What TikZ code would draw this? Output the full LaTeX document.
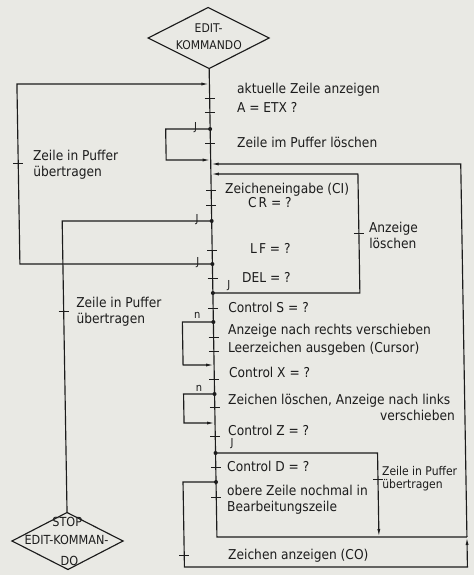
\documentclass[tikz,border=0pt]{standalone}
\usepackage{fontspec}
\setmainfont{DejaVu Sans Condensed}
\usetikzlibrary{arrows.meta}
\definecolor{paper}{RGB}{233,233,228}
\definecolor{ink}{RGB}{28,28,28}
\begin{document}
\begin{tikzpicture}[x=1pt,y=-1pt,
  ln/.style={draw=ink,line width=1.15pt},
  arr/.style={ln,-{Latex[length=8pt,width=3pt]}},
  tickmark/.style={draw=ink,line width=1pt},
  txt/.style={anchor=base west,inner sep=0pt,text=ink,font=\fontsize{13.6}{16}\selectfont},
  txtsm/.style={txt,font=\fontsize{12}{14}\selectfont},
  dlab/.style={anchor=base,inner sep=0pt,text=ink,font=\fontsize{12}{14}\selectfont},
  yn/.style={inner sep=0pt,text=ink,font=\fontsize{11}{13}\selectfont},
  dot/.style={fill=ink}
]
\fill[paper] (0,0) rectangle (474,575);
\useasboundingbox (0,0) rectangle (474,575);
\begin{scope}[cm={1,0,-0.0166,1,(-4.98,0)}]
  % start and stop symbols
  \coordinate (startc) at (213,38);
  \draw[ln] (startc) ++(-60.5,0) -- ++(60.5,-30.5) -- ++(60.5,30.5) -- ++(-60.5,30.5) -- cycle;
  \node[dlab] (start1) at (213,33) {EDIT-};
  \node[dlab] (start2) at (213,50) {KOMMANDO};
  \coordinate (stopc) at (63.5,541);
  \coordinate (stoptop) at (63.5,512.5);
  \draw[ln] (stopc) ++(-55.5,0) -- ++(55.5,-28.5) -- ++(55.5,28.5) -- ++(-55.5,28.5) -- cycle;
  \node[dlab,font=\fontsize{12.5}{14}\selectfont] (stop1) at (63.5,526) {STOP};
  \node[dlab,font=\fontsize{12.5}{14}\selectfont] (stop2) at (62.5,544) {EDIT-KOMMAN-};
  \node[dlab,font=\fontsize{12.5}{14}\selectfont] (stop3) at (65,565) {DO};

  % points on the main line
  \coordinate (top) at (213,69);
  \coordinate (m84) at (213,84);
  \coordinate (j129) at (213,129);
  \coordinate (m160) at (213,160);
  \coordinate (m164) at (213,164);
  \coordinate (m174) at (213,174);
  \coordinate (j221) at (213,221);
  \coordinate (j264) at (213,264);
  \coordinate (j293) at (213,293);
  \coordinate (j322) at (213,322);
  \coordinate (m365) at (213,365);
  \coordinate (j394) at (213,394);
  \coordinate (m423) at (213,423);
  \coordinate (j453) at (213,453);
  \coordinate (j482) at (213,482);
  \coordinate (m537) at (213,537);
  \coordinate (rj) at (463,537);

  % corners of the branch lines
  \coordinate (c1a) at (20.5,264);  \coordinate (c1b) at (20.5,84);
  \coordinate (c2a) at (168.5,129); \coordinate (c2b) at (168.5,160);
  \coordinate (c3) at (63.5,221);
  \coordinate (c4a) at (360,293);   \coordinate (c4b) at (360,174);
  \coordinate (c5a) at (180,482);   \coordinate (c5b) at (180,567);
  \coordinate (c5c) at (463,567);   \coordinate (c5d) at (463,164);
  \coordinate (c6a) at (182,322);   \coordinate (c6b) at (182,365);
  \coordinate (c7a) at (182,394);   \coordinate (c7b) at (182,423);
  \coordinate (c8a) at (375,453);   \coordinate (c8b) at (375,537);

  % main line
  \draw[ln] (top) -- (m537) -- (rj);

  % branches
  \draw[arr] (j264) -- (c1a) -- (c1b) -- (m84);
  \draw[arr] (j129) -- (c2a) -- (c2b) -- (m160);
  \draw[ln] (j221) -- (c3) -- (stoptop);
  \draw[arr] (j293) -- (c4a) -- (c4b) -- (m174);
  \draw[arr] (j482) -- (c5a) -- (c5b) -- (c5c) -- (rj);
  \draw[arr] (rj) -- (c5d) -- (m164);
  \draw[arr] (j322) -- (c6a) -- (c6b) -- (m365);
  \draw[arr] (j394) -- (c7a) -- (c7b) -- (m423);
  \draw[arr] (j453) -- (c8a) -- (c8b);

  % junction dots
  \foreach \p in {j129,j221,j264,j293,j322,j394,j453,j482}
    \fill[dot] (\p) circle (2pt);

  % statement marks
  \foreach \y in {99,113,143,190,205,250,278,308,337,351,379,407,436,467,497}
    \draw[tickmark] (208,\y) -- (218,\y);
  \draw[tickmark] (15.5,163) -- (25.5,163);
  \draw[tickmark] (58.5,311) -- (68.5,311);
  \draw[tickmark] (355,233) -- (365,233);
  \draw[tickmark] (370,479) -- (380,479);
  \draw[tickmark] (175,555) -- (185,555);

  % branch labels
  \node[yn] (y1) at (198.5,128) {J};
  \node[yn] (y2) at (198.5,220) {J};
  \node[yn] (y3) at (198.5,263) {J};
  \node[yn] (y4) at (229,286) {J};
  \node[yn,anchor=base] (n1) at (197,318) {n};
  \node[yn,anchor=base] (n2) at (197.5,391) {n};
  \node[yn] (y5) at (229.6,444) {J};

  % statements
  \node[txt] (t1) at (240.4,94) {aktuelle Zeile anzeigen};
  \node[txt] (t2) at (240,113) {A = ETX ?};
  \node[txt] (t3) at (239.5,147) {Zeile im Puffer löschen};
  \node[txt] (t4) at (226.8,193) {Zeicheneingabe (CI)};
  \node[txt] (t5) at (249.5,207) {C\kern2pt R = ?};
  \node[txt] (t6) at (250.8,253) {L\kern2pt F = ?};
  \node[txt] (t7) at (242.3,282) {DEL = ?};
  \node[txt] (t8) at (370,232) {Anzeige};
  \node[txt] (t9) at (370,248) {löschen};
  \node[txt] (t10) at (35.2,160) {Zeile in Puffer};
  \node[txt] (t11) at (35.2,176) {übertragen};
  \node[txt] (t12) at (76,307) {Zeile in Puffer};
  \node[txt] (t13) at (76,323) {übertragen};
  \node[txt] (t14) at (228,312) {Control S = ?};
  \node[txt] (t15) at (227.4,334) {Anzeige nach rechts verschieben};
  \node[txt] (t16) at (227,352) {Leerzeichen ausgeben (Cursor)};
  \node[txt] (t17) at (227.7,377) {Control X = ?};
  \node[txt] (t18) at (226.3,404) {Zeichen löschen, Anzeige nach links};
  \node[txt,anchor=base east] (t19) at (453,420) {verschieben};
  \node[txt] (t20) at (225.8,435) {Control Z = ?};
  \node[txt] (t21) at (224.2,471) {Control D = ?};
  \node[txt] (t22) at (223.8,495) {obere Zeile nochmal in};
  \node[txt] (t23) at (223.5,511) {Bearbeitungszeile};
  \node[txtsm] (t24) at (379,475) {Zeile in Puffer};
  \node[txtsm] (t25) at (379,488) {übertragen};
  \node[txt] (t26) at (223.7,559) {Zeichen anzeigen (CO)};
\end{scope}
\end{tikzpicture}
\end{document}
